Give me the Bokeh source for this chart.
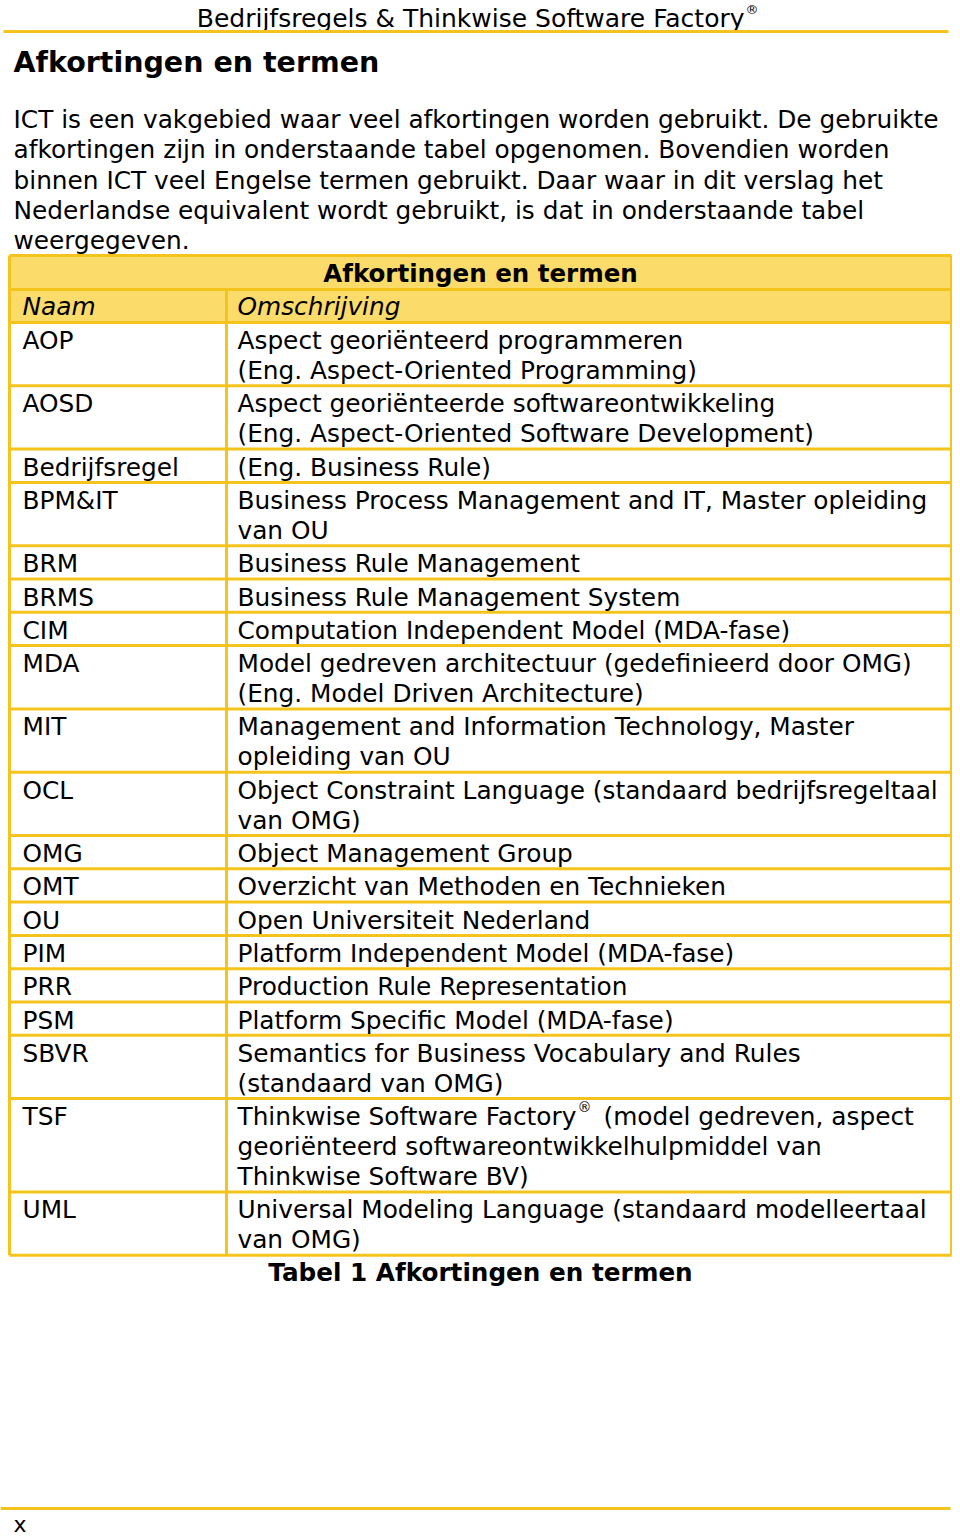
from bokeh.plotting import figure
from bokeh.models import Range1d, ColumnDataSource
from bokeh.core.properties import value
from bokeh.embed import file_html
from bokeh.resources import INLINE

# ---------------- content ----------------
page_header = "Bedrijfsregels & Thinkwise Software Factory"
section_title = "Afkortingen en termen"
paragraph = [
    "ICT is een vakgebied waar veel afkortingen worden gebruikt. De gebruikte",
    "afkortingen zijn in onderstaande tabel opgenomen. Bovendien worden",
    "binnen ICT veel Engelse termen gebruikt. Daar waar in dit verslag het",
    "Nederlandse equivalent wordt gebruikt, is dat in onderstaande tabel",
    "weergegeven.",
]
table_title = "Afkortingen en termen"
col_headers = ["Naam", "Omschrijving"]
naam = ["AOP", "AOSD", "Bedrijfsregel", "BPM&IT", "BRM", "BRMS", "CIM", "MDA",
        "MIT", "OCL", "OMG", "OMT", "OU", "PIM", "PRR", "PSM", "SBVR", "TSF", "UML"]
omschrijving = [
    ["Aspect georiënteerd programmeren", "(Eng. Aspect-Oriented Programming)"],
    ["Aspect georiënteerde softwareontwikkeling", "(Eng. Aspect-Oriented Software Development)"],
    ["(Eng. Business Rule)"],
    ["Business Process Management and IT, Master opleiding", "van OU"],
    ["Business Rule Management"],
    ["Business Rule Management System"],
    ["Computation Independent Model (MDA-fase)"],
    ["Model gedreven architectuur (gedefinieerd door OMG)", "(Eng. Model Driven Architecture)"],
    ["Management and Information Technology, Master", "opleiding van OU"],
    ["Object Constraint Language (standaard bedrijfsregeltaal", "van OMG)"],
    ["Object Management Group"],
    ["Overzicht van Methoden en Technieken"],
    ["Open Universiteit Nederland"],
    ["Platform Independent Model (MDA-fase)"],
    ["Production Rule Representation"],
    ["Platform Specific Model (MDA-fase)"],
    ["Semantics for Business Vocabulary and Rules", "(standaard van OMG)"],
    ["Thinkwise Software Factory", "georiënteerd softwareontwikkelhulpmiddel van", "Thinkwise Software BV)"],
    ["Universal Modeling Language (standaard modelleertaal", "van OMG)"],
]
tsf_rest = "(model gedreven, aspect"
caption = "Tabel 1 Afkortingen en termen"
footer = "x"

# ---------------- style / layout ----------------
GOLD = "#F4C31C"
FILL = "#FBDB6A"
FONT = "DejaVu Sans"
FS = "24.8px"
LINE_H = 30.0
PAD = 3.3

W, H = 952, 1538
p = figure(width=W, height=H, output_backend="svg", toolbar_location=None,
           x_range=Range1d(0, W), y_range=Range1d(H, 0),
           min_border=0, min_border_left=0, min_border_right=0,
           min_border_top=0, min_border_bottom=0)
p.axis.visible = False
p.grid.visible = False
p.outline_line_color = None
p.background_fill_color = "white"
p.border_fill_color = "white"

def txt(x, y, s, size=FS, style="normal", align="left", baseline="middle", font=FONT, color="black"):
    p.text(x=[x], y=[y], text=[s], text_font=value(font), text_font_size=size,
           text_font_style=style, text_align=align, text_baseline=baseline, text_color=color)

# page header
txt(744, 18, page_header, size="25px", align="right")
txt(745, 9, "®", size="13px", align="left")
p.segment(x0=[3], y0=[31], x1=[948], y1=[31], line_color=GOLD, line_width=3)

# section title
txt(13, 62, section_title, size="28.5px", style="bold")

# paragraph
for i, line in enumerate(paragraph):
    txt(13, 119 + i * 30.3, line)

# table geometry
L, M, R = 9, 226, 951
top = 255
h_title, h_cols = 34, 33
y = top + h_title + h_cols
row_tops = []
for lines in omschrijving:
    row_tops.append(y)
    y += PAD + LINE_H * len(lines)
bottom = y

# header fills
p.quad(left=[L, L], right=[R, R], top=[top, top + h_title],
       bottom=[top + h_title, top + h_title + h_cols], fill_color=FILL, line_color=None)

# horizontal lines
hys = [top, top + h_title, top + h_title + h_cols] + row_tops[1:] + [bottom]
p.segment(x0=[L] * len(hys), y0=hys, x1=[R] * len(hys), y1=hys, line_color=GOLD, line_width=3)
# vertical lines
p.segment(x0=[L, R, M], y0=[top, top, top + h_title], x1=[L, R, M], y1=[bottom, bottom, bottom],
          line_color=GOLD, line_width=3)

# header texts
txt((L + R) / 2, top + 18, table_title, size="24.5px", style="bold", align="center")
txt(22, top + h_title + 17, col_headers[0], style="italic")
txt(237, top + h_title + 17, col_headers[1], style="italic")

# rows
xs, ys, ts = [], [], []
for n, lines, rt in zip(naam, omschrijving, row_tops):
    xs.append(22); ys.append(rt + 18); ts.append(n)
    for j, line in enumerate(lines):
        xs.append(237); ys.append(rt + 18 + j * LINE_H); ts.append(line)
src = ColumnDataSource(dict(x=xs, y=ys, t=ts))
p.text(x="x", y="y", text="t", source=src, text_font=value(FONT), text_font_size=FS,
       text_align="left", text_baseline="middle", text_color="black")

# TSF superscript and rest of first line
tsf_top = row_tops[naam.index("TSF")]
txt(577, tsf_top + 8, "®", size="14px")
txt(603, tsf_top + 18, tsf_rest)

# caption
txt((L + R) / 2, bottom + 17, caption, size="24.7px", style="bold", align="center")

# footer
p.segment(x0=[0], y0=[1508], x1=[950], y1=[1508], line_color=GOLD, line_width=3)
txt(13, 1524, footer, size="22px")

open("out.html", "w").write(file_html(p, INLINE))
